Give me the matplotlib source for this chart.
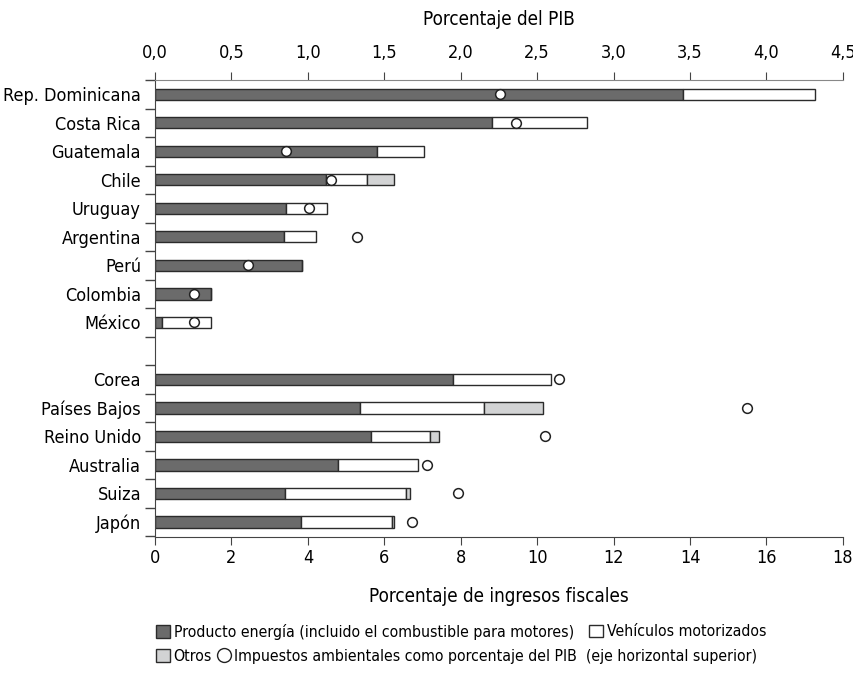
import matplotlib
matplotlib.use("Agg")
import matplotlib.pyplot as plt
from matplotlib.lines import Line2D
from matplotlib.patches import Patch
import numpy as np

plt.rcParams['font.family'] = ['DejaVu Sans']
plt.rcParams['font.stretch'] = 'condensed'

paises = ["Rep. Dominicana", "Costa Rica", "Guatemala", "Chile", "Uruguay",
          "Argentina", "Perú", "Colombia", "México", "",
          "Corea", "Países Bajos", "Reino Unido", "Australia", "Suiza", "Japón"]

# porcentaje de ingresos fiscales (eje inferior)
energia = [13.81, 8.81, 5.82, 4.48, 3.43, 3.37, 3.85, 1.47, 0.18, 0,
           7.80, 5.36, 5.66, 4.80, 3.39, 3.82]
vehiculos = [3.45, 2.49, 1.23, 1.06, 1.06, 0.84, 0.0, 0.0, 1.29, 0,
             2.55, 3.26, 1.53, 2.08, 3.17, 2.38]
otros = [0, 0, 0, 0.71, 0, 0, 0, 0, 0, 0,
         0, 1.52, 0.25, 0, 0.11, 0.05]

# impuestos ambientales como % del PIB (eje superior)
pib = [2.26, 2.36, 0.86, 1.15, 1.01, 1.32, 0.61, 0.255, 0.255, np.nan,
       2.64, 3.87, 2.55, 1.78, 1.98, 1.68]

c_energia = "#6b6b6b"
c_otros = "#d2d3d4"
borde = "#2b2b2b"

fig = plt.figure(figsize=(8.54, 6.78), dpi=100)
ax = fig.add_axes([0.1815, 0.208, 0.8055, 0.674])

y = np.arange(len(paises))
h = 0.4
energia = np.array(energia)
vehiculos = np.array(vehiculos)
otros = np.array(otros)
mask = np.array([p != "" for p in paises])

ax.barh(y[mask], energia[mask], height=h, color=c_energia, edgecolor=borde, linewidth=1)
ax.barh(y[mask], vehiculos[mask], left=energia[mask], height=h, color="white",
        edgecolor=borde, linewidth=1)
m2 = mask & (otros > 0)
ax.barh(y[m2], otros[m2], left=(energia + vehiculos)[m2], height=h, color=c_otros,
        edgecolor=borde, linewidth=1)

ax.set_xlim(0, 18)
ax.set_ylim(len(paises) - 0.47, -0.47)
ax.set_xticks(range(0, 19, 2))
ax.set_yticks(np.arange(-0.5, len(paises), 1))
ax.set_yticklabels([])
ax.set_yticks(y, minor=True)
ax.set_yticklabels(paises, minor=True)
ax.tick_params(axis='y', which='minor', length=0, labelsize=13, pad=10)
ax.tick_params(axis='y', which='major', length=7.5, width=1, color="#444444")
ax.tick_params(axis='x', labelsize=13, length=6, color="#444444", pad=3)
for s in ["right", "top"]:
    ax.spines[s].set_visible(False)
ax.spines["left"].set_color("#444444")
ax.spines["bottom"].set_color("#444444")
ax.set_xlabel("Porcentaje de ingresos fiscales", fontsize=13.5, labelpad=14)

ax2 = ax.twiny()
ax2.set_xlim(0, 4.5)
ax2.plot(pib, y, linestyle="none", marker="o", ms=7, mfc="white", mec="#222222", mew=1.1)
ax2.set_xticks(np.arange(0, 4.51, 0.5))
ax2.set_xticklabels([f"{v:.1f}".replace(".", ",") for v in np.arange(0, 4.51, 0.5)])
ax2.tick_params(axis='x', labelsize=13, length=6, color="#444444", pad=7)
for s in ["right", "bottom", "left"]:
    ax2.spines[s].set_visible(False)
ax2.spines["top"].set_color("#888888")
ax2.set_xlabel("Porcentaje del PIB", fontsize=13.5, labelpad=14)

items = [
    (Patch(facecolor=c_energia, edgecolor=borde), "Producto energía (incluido el combustible para motores)", 0.183, 0.068),
    (Patch(facecolor="white", edgecolor=borde), "Vehículos motorizados", 0.690, 0.068),
    (Patch(facecolor=c_otros, edgecolor=borde), "Otros", 0.183, 0.032),
    (Line2D([], [], linestyle="none", marker="o", ms=10, mfc="white", mec="#222222"),
     "Impuestos ambientales como porcentaje del PIB  (eje horizontal superior)", 0.254, 0.032),
]
for hd, lab, lx, ly in items:
    fig.legend(handles=[hd], labels=[lab], loc="center left", bbox_to_anchor=(lx, ly),
               frameon=False, fontsize=11.3, handlelength=0.85, handleheight=0.85,
               handletextpad=0.25, borderpad=0, borderaxespad=0)

fig.savefig("out.png", dpi=100)
